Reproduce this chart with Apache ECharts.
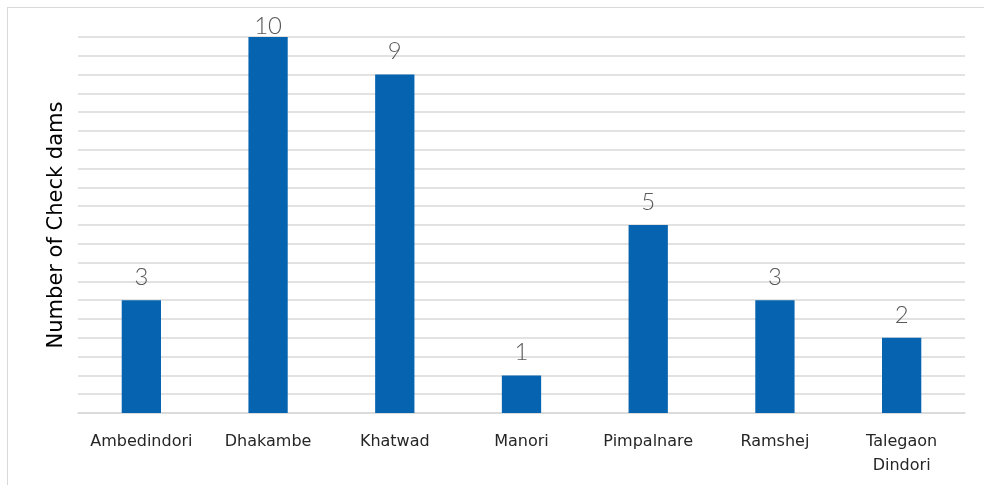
<!DOCTYPE html>
<html><head><meta charset="utf-8">
<script src="https://cdn.jsdelivr.net/npm/echarts@6/dist/echarts.min.js"></script>
<style>html,body{margin:0;padding:0;background:#fff}#c{width:984px;height:485px}
#frame{position:absolute;left:7px;top:7px;width:990px;height:490px;border:1.5px solid #d9d9d9;pointer-events:none}</style>
</head><body><div id="c"></div><div id="frame"></div>
<script>
const categories = ['Ambedindori','Dhakambe','Khatwad','Manori','Pimpalnare','Ramshej','Talegaon\nDindori'];
const values = [3,10,9,1,5,3,2];
const yAxisName = 'Number of Check dams';
const maxVal = Math.max(...values);
const chart = echarts.init(document.getElementById('c'));
chart.setOption({
  animation:false,
  textStyle:{fontFamily:'DejaVu Sans'},
  grid:{left:78,right:19,top:37,bottom:72},
  xAxis:{type:'category',data:categories,
    axisLine:{lineStyle:{color:'#d9d9d9',width:1.5}},axisTick:{show:false},
    axisLabel:{color:'#262626',fontSize:16,margin:17,lineHeight:24,interval:0}},
  yAxis:{type:'value',min:0,max:10,interval:0.5,
    name:yAxisName,nameLocation:'middle',nameGap:11,nameRotate:90,
    nameTextStyle:{color:'#000',fontSize:21},
    axisLabel:{show:false},axisLine:{show:false},axisTick:{show:false},
    splitLine:{lineStyle:{color:'#d9d9d9',width:1.5}}},
  series:[{type:'bar',barWidth:'31%',
    data:values.map(v => v===maxVal ? {value:v,label:{distance:-1}} : v),
    itemStyle:{color:'#0563AF'},
    label:{show:true,position:'top',color:'#595959',fontSize:24,fontFamily:'Lato',fontWeight:300,distance:11}}]
});
</script></body></html>
